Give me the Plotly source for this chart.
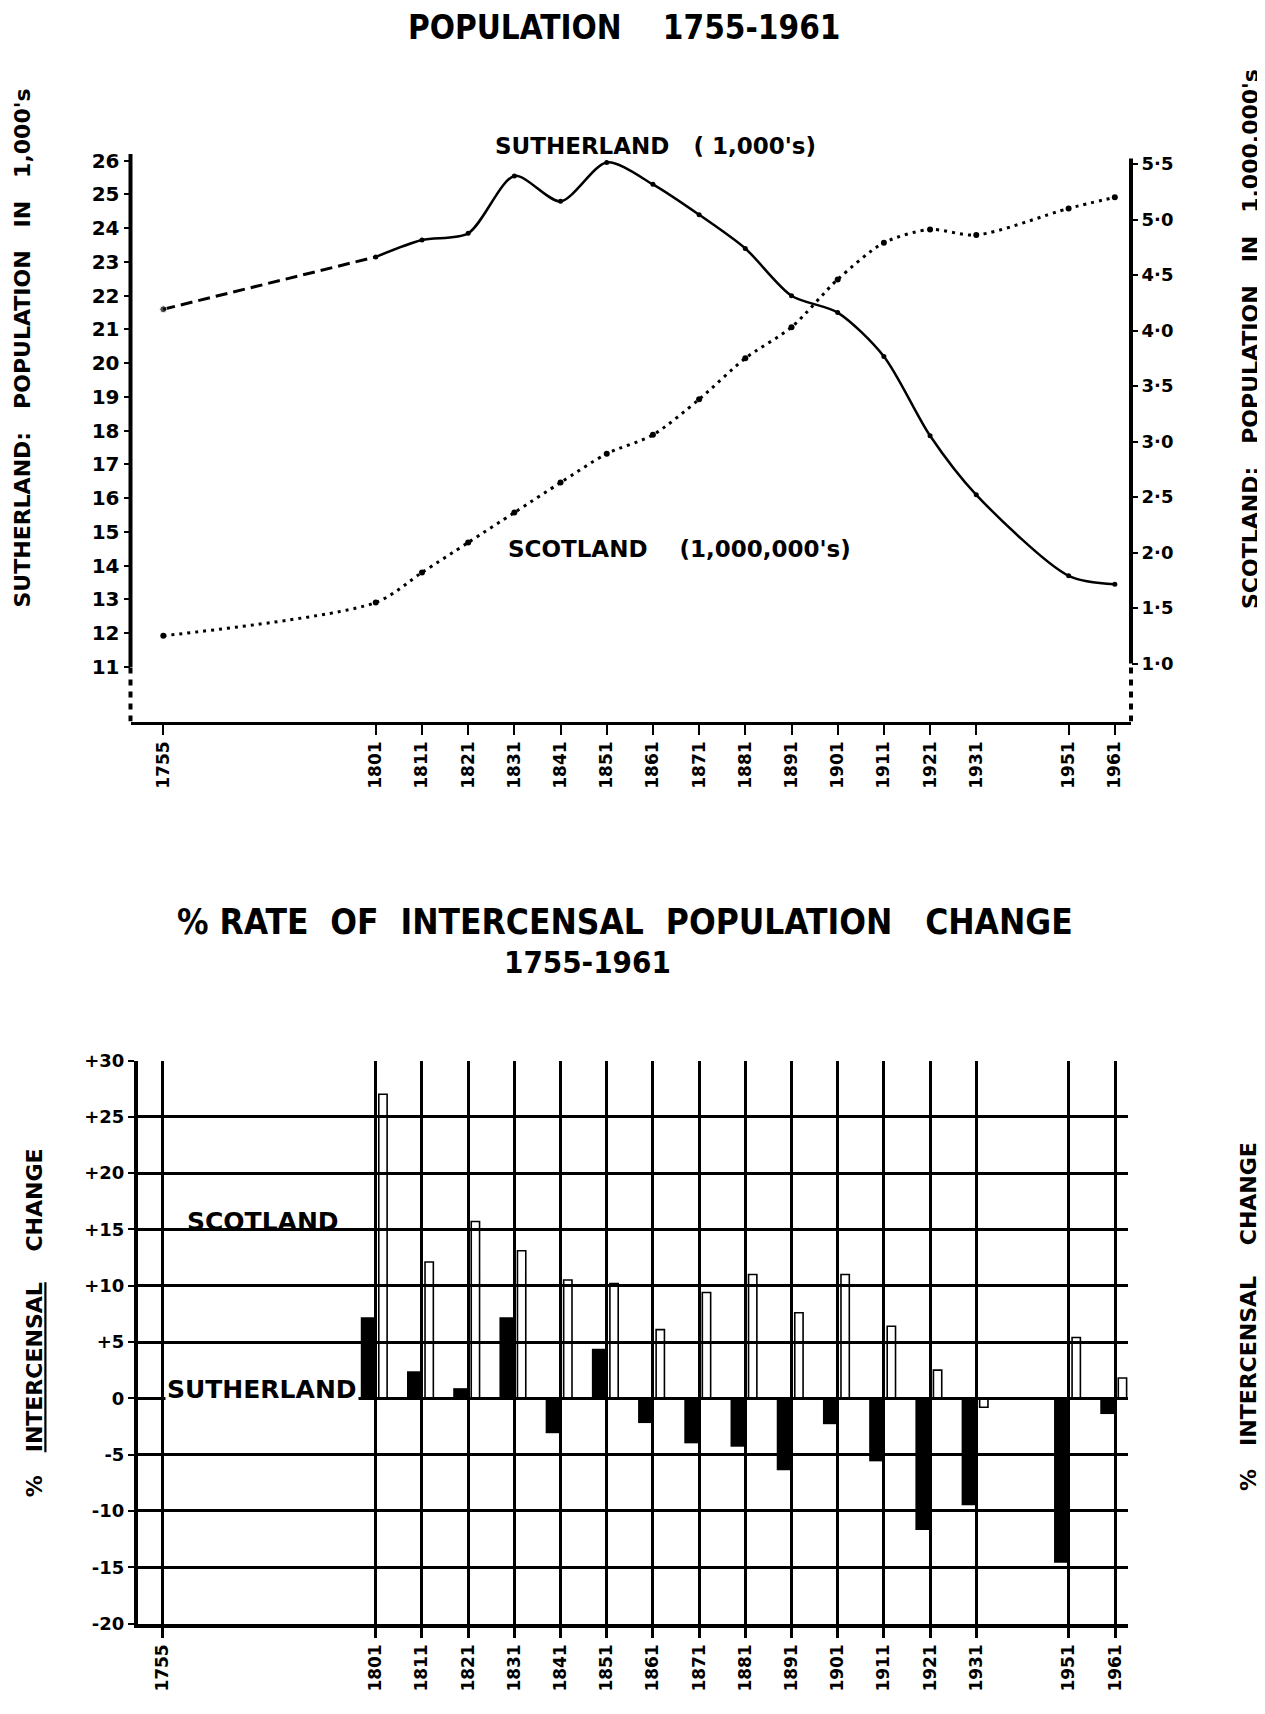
import plotly.graph_objects as go

# ---------------- data ----------------
census_years = [1755, 1801, 1811, 1821, 1831, 1841, 1851, 1861, 1871, 1881,
                1891, 1901, 1911, 1921, 1931, 1951, 1961]
sutherland_pop = [21.6, 23.15, 23.65, 23.85, 25.55, 24.8, 25.95, 25.3, 24.4, 23.4,
                  22.0, 21.5, 20.2, 17.85, 16.1, 13.7, 13.45]          # thousands
scotland_pop = [1.25, 1.55, 1.82, 2.09, 2.36, 2.63, 2.89, 3.06, 3.38, 3.75,
                4.03, 4.46, 4.79, 4.91, 4.86, 5.10, 5.20]              # millions

change_years = [1801, 1811, 1821, 1831, 1841, 1851, 1861, 1871, 1881, 1891,
                1901, 1911, 1921, 1931, 1951, 1961]
sutherland_change = [7.2, 2.4, 0.9, 7.2, -3.1, 4.4, -2.2, -4.0, -4.3, -6.4,
                     -2.3, -5.6, -11.7, -9.5, -14.6, -1.4]
scotland_change = [27.0, 12.1, 15.7, 13.1, 10.5, 10.2, 6.1, 9.4, 11.0, 7.6,
                   11.0, 6.4, 2.5, -0.8, 5.4, 1.8]

left_ticks = list(range(11, 27))
right_ticks = [1.0, 1.5, 2.0, 2.5, 3.0, 3.5, 4.0, 4.5, 5.0, 5.5]
right_ticktext = ["1·0", "1·5", "2·0", "2·5", "3·0", "3·5", "4·0", "4·5", "5·0", "5·5"]
pct_ticks = [-20, -15, -10, -5, 0, 5, 10, 15, 20, 25, 30]
pct_ticktext = ["-20", "-15", "-10", "-5", "0", "+5", "+10", "+15", "+20", "+25", "+30"]

# ---------------- styling ----------------
W, H = 1265, 1714
BOLD = dict(family="DejaVu Sans, Lato, sans-serif", color="black", weight="bold")
COND = dict(family="Liberation Sans Narrow, DejaVu Sans Condensed, Roboto, sans-serif",
            color="black", weight="bold")

def py(px):
    return 1 - px / H

def pxx(px):
    return px / W

top_x_range = [1747.9, 1964.5]
top_dom_x = [pxx(122.5), pxx(1123)]
top_dom_y = [py(713.6), py(146)]
left_range = [9.38, 26.2]
right_range = [0.477, 5.59]

bot_x_range = [1749.6, 1963.8]
bot_dom_x = [pxx(130), pxx(1120)]
bot_dom_y = [py(1615.5), py(1052.5)]

fig = go.Figure()

# ---- top chart traces ----
fig.add_trace(go.Scatter(
    x=census_years[:2], y=sutherland_pop[:2], mode="lines+markers",
    line=dict(color="black", width=3, dash="12px,6px"),
    marker=dict(size=[7, 0], color="black"),
    xaxis="x", yaxis="y", showlegend=False, hoverinfo="skip"))
fig.add_trace(go.Scatter(
    x=census_years[1:], y=sutherland_pop[1:], mode="lines+markers",
    line=dict(color="black", width=2.5, shape="spline", smoothing=0.8),
    marker=dict(size=5, color="black"),
    xaxis="x", yaxis="y", showlegend=False, hoverinfo="skip"))
fig.add_trace(go.Scatter(
    x=census_years, y=scotland_pop, mode="lines+markers",
    line=dict(color="black", width=3, shape="spline", smoothing=0.8, dash="3px,5px"),
    marker=dict(size=6, color="black"),
    xaxis="x", yaxis="y2", showlegend=False, hoverinfo="skip"))

# ---- bottom chart traces ----
fig.add_trace(go.Bar(
    x=change_years, y=sutherland_change, width=3.2, offset=-3.2,
    marker=dict(color="black", line=dict(width=0)),
    xaxis="x2", yaxis="y3", showlegend=False, hoverinfo="skip"))
fig.add_trace(go.Bar(
    x=change_years, y=scotland_change, width=1.8, offset=0.7,
    marker=dict(color="rgba(255,255,255,0)", line=dict(color="black", width=1.6)),
    xaxis="x2", yaxis="y3", showlegend=False, hoverinfo="skip"))

year_text = [str(y) for y in census_years]
xt_font = dict(size=17, **BOLD)

fig.update_layout(
    template="none",
    width=W, height=H,
    margin=dict(l=0, r=0, t=0, b=0, autoexpand=False),
    paper_bgcolor="white", plot_bgcolor="white",
    barmode="overlay",
    xaxis=dict(domain=top_dom_x, range=top_x_range, anchor="y", automargin=False,
               tickvals=census_years, ticktext=year_text, tickangle=-90,
               ticks="outside", ticklen=10, tickwidth=2, tickcolor="black",
               showgrid=False, zeroline=False, showline=True, linecolor="black",
               linewidth=3, tickfont=xt_font),
    yaxis=dict(domain=top_dom_y, range=left_range, anchor="x", automargin=False,
               tickvals=left_ticks, ticks="outside", ticklen=6, tickwidth=2,
               tickcolor="black", showgrid=False, zeroline=False, showline=False,
               tickfont=dict(size=20, **BOLD)),
    yaxis2=dict(range=right_range, overlaying="y", side="right", anchor="x",
                automargin=False,
                tickvals=right_ticks, ticktext=right_ticktext, ticks="outside",
                ticklen=6, tickwidth=2, tickcolor="black", showgrid=False,
                zeroline=False, showline=False, tickfont=dict(size=18, **BOLD)),
    xaxis2=dict(domain=bot_dom_x, range=bot_x_range, anchor="y3", automargin=False,
                tickvals=census_years, ticktext=year_text, tickangle=-90,
                ticks="outside", ticklen=10, tickwidth=3, tickcolor="black",
                showgrid=True, gridcolor="black", gridwidth=3, zeroline=False,
                showline=True, linecolor="black", linewidth=4, tickfont=xt_font),
    xaxis3=dict(range=bot_x_range, overlaying="x2", side="top", anchor="y3",
                automargin=False,
                tickvals=census_years, ticktext=year_text, tickangle=-90,
                ticks="outside", ticklen=10, tickwidth=3, tickcolor="black",
                showgrid=False, zeroline=False, showline=True, linecolor="black",
                linewidth=3, tickfont=xt_font),
    yaxis3=dict(domain=bot_dom_y, range=[-20, 30], anchor="x2", automargin=False,
                tickvals=pct_ticks, ticktext=pct_ticktext, ticks="outside",
                ticklen=6, tickwidth=2, tickcolor="black", showgrid=True,
                gridcolor="black", gridwidth=3, zeroline=False, showline=True,
                linecolor="black", linewidth=4, tickfont=dict(size=18, **BOLD)),
    yaxis4=dict(range=[-20, 30], overlaying="y3", side="right", anchor="x2",
                automargin=False,
                tickvals=pct_ticks, ticktext=pct_ticktext, ticks="outside",
                ticklen=6, tickwidth=2, tickcolor="black", showgrid=False,
                zeroline=False, showline=True, linecolor="black", linewidth=4,
                tickfont=dict(size=18, **BOLD)),
)

# ---- top chart axis lines (solid above lowest tick, dashed below) ----
shapes = [
    dict(type="line", xref="paper", yref="y", x0=top_dom_x[0], x1=top_dom_x[0],
         y0=11, y1=26.2, line=dict(color="black", width=4)),
    dict(type="line", xref="paper", yref="y", x0=top_dom_x[0], x1=top_dom_x[0],
         y0=left_range[0], y1=11, line=dict(color="black", width=4, dash="6px,6px")),
    dict(type="line", xref="paper", yref="y2", x0=top_dom_x[1], x1=top_dom_x[1],
         y0=1.0, y1=5.55, line=dict(color="black", width=4)),
    dict(type="line", xref="paper", yref="y2", x0=top_dom_x[1], x1=top_dom_x[1],
         y0=right_range[0], y1=1.0, line=dict(color="black", width=4, dash="6px,6px")),
]
fig.update_layout(shapes=shapes)

# ---- text ----
ann = [
    dict(text="POPULATION    1755-1961", x=pxx(615.6), y=py(19.5), font=dict(size=33, **COND)),
    dict(text="SUTHERLAND   ( 1,000's)", x=pxx(647), y=py(137.5), font=dict(size=23, **BOLD)),
    dict(text="SCOTLAND    (1,000,000's)", x=pxx(671), y=py(541), font=dict(size=23, **BOLD)),
    dict(text="SUTHERLAND:   POPULATION   IN   1,000's", x=pxx(13.5), y=py(340),
         textangle=-90, font=dict(size=22, **BOLD)),
    dict(text="SCOTLAND:   POPULATION   IN   1,000,000's", x=pxx(1243), y=py(331),
         textangle=-90, font=dict(size=22, **BOLD)),
    dict(text="% RATE  OF  INTERCENSAL  POPULATION   CHANGE", x=pxx(616.7), y=py(913.7),
         font=dict(size=35, **COND)),
    dict(text="1755-1961", x=pxx(579.5), y=py(954), font=dict(size=31, **COND)),
    dict(text="%   <u>INTERCENSAL</u>    CHANGE", x=pxx(26.3), y=py(1315),
         textangle=-90, font=dict(size=22, **BOLD)),
    dict(text="%   <u>INTERCENSAL</u>    CHANGE", x=pxx(1240), y=py(1309),
         textangle=-90, font=dict(size=22, **BOLD)),
    dict(text="SCOTLAND", x=pxx(255), y=py(1213), font=dict(size=25, **BOLD)),
    dict(text="SUTHERLAND", x=pxx(254), y=py(1381.6), font=dict(size=25, **BOLD),
         bgcolor="white"),
]
for a in ann:
    a.update(xref="paper", yref="paper", showarrow=False, xanchor="center", yanchor="middle")
fig.update_layout(annotations=ann)

fig.write_html("out.html")
